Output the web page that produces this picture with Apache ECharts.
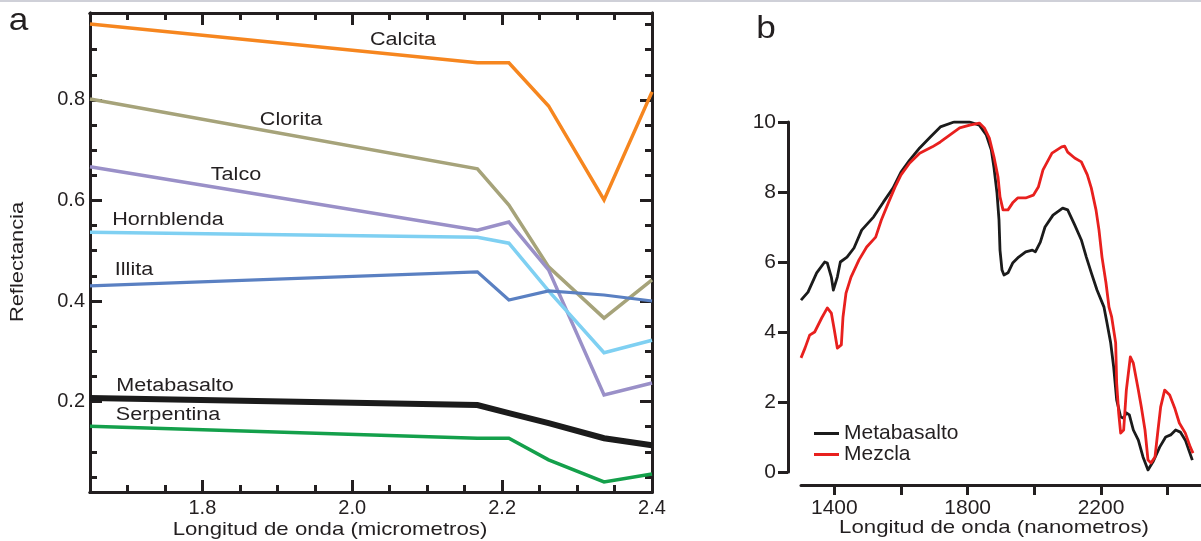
<!DOCTYPE html>
<html>
<head>
<meta charset="utf-8">
<script src="https://cdn.jsdelivr.net/npm/echarts@6/dist/echarts.min.js"></script>
<style>
html,body{margin:0;padding:0;background:#fff;}
#c{width:1201px;height:541px;}
</style>
</head>
<body>
<div id="c"></div>
<script>
// ---------- Panel a data (ASTER SWIR bands, micrometres) ----------
const bandsUm      = [1.65, 2.167, 2.209, 2.262, 2.336, 2.4];
const calcita      = [0.951, 0.874, 0.874, 0.788, 0.601, 0.816];
const clorita      = [0.802, 0.663, 0.591, 0.468, 0.366, 0.442];
const talco        = [0.667, 0.541, 0.557, 0.462, 0.213, 0.237];
const hornblenda   = [0.537, 0.527, 0.515, 0.420, 0.297, 0.322];
const illita       = [0.430, 0.458, 0.402, 0.420, 0.412, 0.400];
const metabasaltoA = [0.207, 0.193, 0.177, 0.157, 0.127, 0.113];
const serpentina   = [0.151, 0.127, 0.127, 0.084, 0.040, 0.056];

const xMajorA = [1.8, 2.0, 2.2, 2.4];
const xMinorA = [1.7, 1.75, 1.85, 1.9, 1.95, 2.05, 2.1, 2.15, 2.25, 2.3, 2.35];
const yMajorA = [0.2, 0.4, 0.6, 0.8];
const yMinorA = [0.05, 0.1, 0.15, 0.25, 0.3, 0.35, 0.45, 0.5, 0.55, 0.65, 0.7, 0.75, 0.85, 0.9, 0.95];

// ---------- Panel b data (nanometres) ----------
const metaWl  = [1300,1321,1347,1371,1379,1391,1397,1409,1418,1438,1459,1482,1518,1547,1576,1600,1626,1656,1688,1718,1759,1806,1835,1856,1871,1879,1888,1894,1897,1903,1909,1921,1935,1953,1974,1994,2003,2018,2032,2056,2085,2100,2121,2141,2156,2171,2188,2209,2218,2229,2238,2247,2259,2268,2276,2285,2297,2312,2326,2341,2356,2376,2394,2409,2424,2438,2453,2474];
const metaVal = [4.91,5.14,5.69,6.0,5.97,5.57,5.2,5.57,6.0,6.14,6.4,6.91,7.29,7.71,8.11,8.57,8.91,9.26,9.57,9.86,10.0,10.0,9.91,9.63,9.2,8.69,7.97,7.2,6.34,5.77,5.63,5.69,5.97,6.14,6.29,6.34,6.29,6.57,7.0,7.34,7.54,7.49,7.06,6.63,6.14,5.69,5.2,4.71,4.26,3.69,3.0,2.06,1.57,1.54,1.69,1.63,1.2,0.91,0.43,0.06,0.29,0.71,1.0,1.06,1.2,1.14,0.91,0.34];
const mezWl   = [1300,1312,1326,1341,1362,1379,1391,1400,1409,1421,1426,1435,1450,1474,1497,1524,1541,1562,1582,1600,1626,1656,1694,1718,1747,1776,1806,1835,1850,1865,1879,1891,1897,1906,1921,1935,1950,1974,1997,2012,2026,2053,2082,2091,2100,2121,2141,2159,2171,2185,2194,2203,2215,2224,2232,2244,2247,2253,2259,2268,2276,2288,2297,2312,2321,2332,2341,2350,2362,2371,2379,2391,2406,2421,2435,2453,2468,2476];
const mezVal  = [3.26,3.54,3.91,4.0,4.4,4.69,4.54,4.06,3.54,3.63,4.43,5.11,5.57,6.06,6.43,6.71,7.2,7.69,8.14,8.49,8.83,9.11,9.29,9.43,9.63,9.83,9.91,9.97,9.83,9.54,9.0,8.43,7.86,7.49,7.49,7.69,7.83,7.83,7.91,8.14,8.63,9.11,9.29,9.31,9.14,8.97,8.86,8.49,8.11,7.49,6.91,6.14,5.4,4.71,4.43,3.69,2.54,1.69,1.11,1.2,2.34,3.29,3.11,2.34,1.86,1.2,0.34,0.26,0.43,1.2,1.86,2.34,2.2,1.83,1.4,1.11,0.71,0.54];

const xTicksB  = [1400, 1600, 1800, 2000, 2200, 2400];
const xLabelsB = [1400, 1800, 2200];

// ---------- styling ----------
const INK = '#231f20';
const FONT = '"Liberation Sans", Arial, sans-serif';

const seriesA = [
  {name: 'Calcita',     vals: calcita,      color: '#f6861f', width: 3.5},
  {name: 'Clorita',     vals: clorita,      color: '#a6a37a', width: 3.5},
  {name: 'Talco',       vals: talco,        color: '#9a90c8', width: 3.5},
  {name: 'Hornblenda',  vals: hornblenda,   color: '#7fd0f2', width: 3.5},
  {name: 'Illita',      vals: illita,       color: '#5a80c2', width: 3.2},
  {name: 'Serpentina',  vals: serpentina,   color: '#14a04b', width: 3.5},
  {name: 'Metabasalto', vals: metabasaltoA, color: '#1b1b1b', width: 6}
];

const labelPos = [
  {t: 'Calcita', x: 403, y: 40},
  {t: 'Clorita', x: 291, y: 120},
  {t: 'Talco', x: 236, y: 175},
  {t: 'Hornblenda', x: 168, y: 220},
  {t: 'Illita', x: 134, y: 270},
  {t: 'Metabasalto', x: 175, y: 386},
  {t: 'Serpentina', x: 168, y: 415}
];

function txt(text, x, y, size, sx, rot) {
  return {
    type: 'text', x: x, y: y, rotation: rot || 0, scaleX: sx || 1,
    style: {
      text: text, font: size + 'px ' + FONT, fill: INK,
      textAlign: 'center', align: 'center',
      textVerticalAlign: 'middle', verticalAlign: 'middle'
    }
  };
}

function axisA(dim, position, ticks, len, labels) {
  const a = {
    type: 'value', gridIndex: 0, position: position,
    min: dim === 'x' ? 1.65 : 0.02,
    max: dim === 'x' ? 2.4 : 0.973,
    axisLine: {show: true, onZero: false, lineStyle: {color: INK, width: 3}},
    axisTick: {show: true, inside: true, length: len, customValues: ticks,
               lineStyle: {color: INK, width: 3}},
    axisLabel: {show: false},
    splitLine: {show: false}
  };
  if (labels) {
    a.axisLabel = {show: true, customValues: labels, formatter: v => v.toFixed(1),
                   margin: dim === 'x' ? 6 : 5, fontSize: 20, fontFamily: FONT, color: INK};
  }
  return a;
}

const chart = echarts.init(document.getElementById('c'));

const option = {
  animation: false,
  backgroundColor: '#ffffff',
  textStyle: {fontFamily: FONT},
  grid: [
    {left: 90, top: 13, width: 562, height: 479},
    {left: 801, top: 122, width: 408, height: 350}
  ],
  xAxis: [
    axisA('x', 'bottom', xMajorA, 12, xMajorA),
    axisA('x', 'bottom', xMinorA, 7),
    axisA('x', 'top', xMajorA, 12),
    axisA('x', 'top', xMinorA, 7),
    {
      type: 'value', gridIndex: 1, position: 'bottom', min: 1300, max: 2500, offset: 13,
      axisLine: {show: true, onZero: false, lineStyle: {color: INK, width: 3}},
      axisTick: {show: true, inside: false, length: 10, customValues: xTicksB,
                 lineStyle: {color: INK, width: 3}},
      axisLabel: {show: true, customValues: xLabelsB, formatter: v => String(v),
                  margin: 13, fontSize: 21, fontFamily: FONT, color: INK},
      splitLine: {show: false}
    }
  ],
  yAxis: [
    axisA('y', 'left', yMajorA, 12, yMajorA),
    axisA('y', 'left', yMinorA, 7),
    axisA('y', 'right', yMajorA, 12),
    axisA('y', 'right', yMinorA, 7),
    {
      type: 'value', gridIndex: 1, position: 'left', min: 0, max: 10, interval: 2, offset: 13,
      axisLine: {show: true, onZero: false, lineStyle: {color: INK, width: 3}},
      axisTick: {show: true, inside: false, length: 10, lineStyle: {color: INK, width: 3}},
      axisLabel: {show: true, margin: 12, fontSize: 21, fontFamily: FONT, color: INK},
      splitLine: {show: false}
    }
  ],
  legend: {
    data: ['Metabasalto', 'Mezcla'],
    orient: 'vertical', left: 814, top: 423, padding: 0,
    itemWidth: 25, itemHeight: 3, itemGap: 0, icon: 'rect',
    selectedMode: false,
    textStyle: {fontSize: 21, lineHeight: 20, color: INK, fontFamily: FONT}
  },
  series: seriesA.map(s => ({
    name: 'a · ' + s.name,
    type: 'line', xAxisIndex: 0, yAxisIndex: 0,
    data: bandsUm.map((x, i) => [x, s.vals[i]]),
    symbol: 'none', silent: true,
    lineStyle: {color: s.color, width: s.width, join: 'miter', cap: 'butt'},
    itemStyle: {color: s.color}
  })).concat([
    {
      name: 'Metabasalto', type: 'line', xAxisIndex: 4, yAxisIndex: 4,
      data: metaWl.map((x, i) => [x, metaVal[i]]),
      symbol: 'none', silent: true,
      lineStyle: {color: '#1b1b1b', width: 2.8, join: 'round'},
      itemStyle: {color: '#1b1b1b'}
    },
    {
      name: 'Mezcla', type: 'line', xAxisIndex: 4, yAxisIndex: 4,
      data: mezWl.map((x, i) => [x, mezVal[i]]),
      symbol: 'none', silent: true,
      lineStyle: {color: '#e8201e', width: 2.8, join: 'round'},
      itemStyle: {color: '#e8201e'}
    }
  ]),
  graphic: [
    {type: 'rect', shape: {x: 0, y: 0, width: 1201, height: 2}, style: {fill: '#cfd0d8'}},
    txt('a', 18.5, 21.5, 32, 1.1),
    txt('b', 766, 29, 32, 1.1),
    txt('Reflectancia', 18, 262, 19, 1.15, Math.PI / 2),
    txt('Longitud de onda (micrometros)', 330, 530, 18.5, 1.2),
    txt('Longitud de onda (nanometros)', 994, 528, 18.5, 1.2)
  ].concat(labelPos.map(l => txt(l.t, l.x, l.y, 18, 1.2)))
};

chart.setOption(option);
</script>
</body>
</html>
